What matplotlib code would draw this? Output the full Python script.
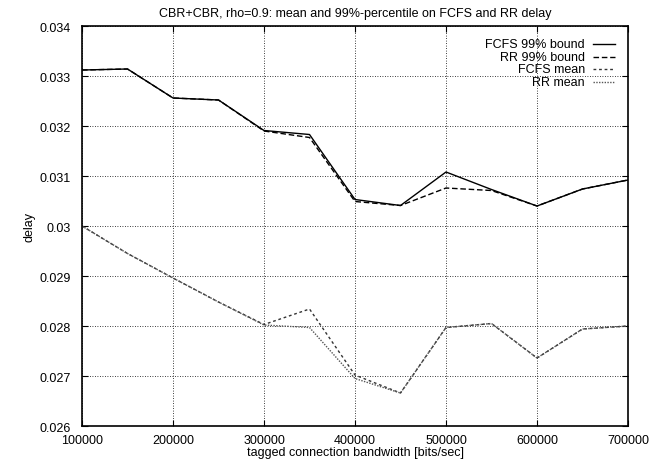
import matplotlib
matplotlib.use('Agg')
import matplotlib.pyplot as plt
from matplotlib.ticker import FuncFormatter, MultipleLocator

plt.rcParams['font.family'] = ['Liberation Sans', 'DejaVu Sans']
plt.rcParams['font.size'] = 9

bandwidth = [100000, 150000, 200000, 250000, 300000, 350000, 400000,
             450000, 500000, 550000, 600000, 650000, 700000]
fcfs_99 = [0.03312, 0.03314, 0.03256, 0.03252, 0.03191, 0.03183, 0.03053,
           0.03041, 0.03108, 0.03073, 0.03040, 0.03074, 0.03092]
rr_99 = [0.03312, 0.03314, 0.03256, 0.03252, 0.03190, 0.03177, 0.03049,
         0.03041, 0.03076, 0.03071, 0.03040, 0.03074, 0.03092]
fcfs_mean = [0.03000, 0.02945, 0.02896, 0.02848, 0.02803, 0.02834, 0.02702,
             0.02666, 0.02797, 0.02805, 0.02736, 0.02794, 0.02800]
rr_mean = [0.03000, 0.02945, 0.02896, 0.02848, 0.02802, 0.02797, 0.02695,
           0.02666, 0.02797, 0.02805, 0.02736, 0.02794, 0.02800]

labels = ["FCFS 99% bound", "RR 99% bound", "FCFS mean", "RR mean"]
series = [fcfs_99, rr_99, fcfs_mean, rr_mean]
styles = [dict(color='black', lw=1.0, ls='-'),
          dict(color='black', lw=1.0, ls=(0, (4, 2))),
          dict(color='#333333', lw=1.0, ls=(0, (2, 2))),
          dict(color='#555555', lw=1.0, ls=(0, (1, 1)))]

fig = plt.figure(figsize=(6.69, 4.60), dpi=100)
ax = fig.add_axes([0.1226, 0.0717, 0.8161, 0.8696])

for vals, st in zip(series, styles):
    ax.plot(bandwidth, vals, **st)

ax.set_xlim(100000, 700000)
ax.set_ylim(0.026, 0.034)
ax.xaxis.set_major_locator(MultipleLocator(100000))
ax.yaxis.set_major_locator(MultipleLocator(0.001))
ax.xaxis.set_major_formatter(FuncFormatter(lambda v, p: '%d' % round(v)))
ax.yaxis.set_major_formatter(FuncFormatter(lambda v, p: '%g' % round(v, 4)))
ax.tick_params(direction='in', top=True, right=True, length=4, width=0.8)
ax.tick_params(axis='x', pad=6)
ax.tick_params(axis='y', pad=8)
ax.grid(True, color='black', lw=0.6, ls=(0, (1, 2)))
for s in ax.spines.values():
    s.set_linewidth(1.2)

ax.set_title("CBR+CBR, rho=0.9: mean and 99%-percentile on FCFS and RR delay",
             fontsize=9, pad=7)
ax.set_xlabel("tagged connection bandwidth [bits/sec]", labelpad=0)
ax.set_ylabel("delay", labelpad=3)

# gnuplot-style key: right-aligned text, sample to the right
for i, (lab, st) in enumerate(zip(labels, styles)):
    y = 0.955 - i * 0.0318
    ax.text(0.921, y, lab, transform=ax.transAxes, ha='right', va='center', fontsize=9)
    ax.plot([0.936, 0.976], [y, y], transform=ax.transAxes, clip_on=False, **st)

fig.savefig('out.png', dpi=100, facecolor='white')
